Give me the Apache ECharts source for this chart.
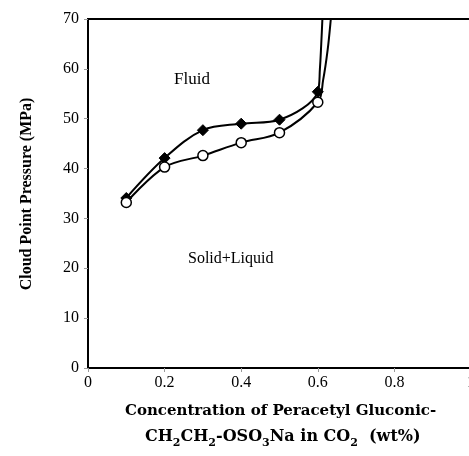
<!DOCTYPE html>
<html>
<head>
<meta charset="utf-8">
<script src="https://cdn.jsdelivr.net/npm/echarts@6/dist/echarts.min.js"></script>
<style>html,body{margin:0;padding:0;background:#fff;}#c{width:469px;height:456px;}</style>
</head>
<body>
<div id="c"></div>
<script>
// Measured points
const concentrations = [0.1, 0.2, 0.3, 0.4, 0.5, 0.6];
const diamondPressure = [34.1, 42.1, 47.7, 49.0, 49.8, 55.4];
const circlePressure = [33.2, 40.3, 42.6, 45.2, 47.2, 53.3];
// Continuation of the curves upward (no markers)
const diamondTailX = [0.6055, 0.609, 0.612, 0.6135];
const diamondTailY = [60.0, 65.0, 70.0, 73.0];
const circleTailX = [0.614, 0.6257, 0.634, 0.637];
const circleTailY = [57.8, 63.8, 70.0, 73.0];
const xTicks = [0, 0.2, 0.4, 0.6, 0.8, 1];
const yTicks = [0, 10, 20, 30, 40, 50, 60, 70];

const serif = '"Liberation Serif", "DejaVu Serif", serif';
const wideSerif = '"DejaVu Serif", serif';

function build(xs, ys, tx, ty) {
  const d = xs.map((x, i) => [x, ys[i]]);
  tx.forEach((x, i) => d.push({ value: [x, ty[i]], symbol: 'none' }));
  return d;
}

const chart = echarts.init(document.getElementById('c'), null, { renderer: 'canvas' });
chart.setOption({
  animation: false,
  backgroundColor: '#fff',
  grid: { left: 88, top: 19, right: -2, bottom: 88, outerBoundsMode: 'none', containLabel: false,
    show: true, borderColor: '#000', borderWidth: 2 },
  xAxis: {
    type: 'value', min: 0, max: 1, interval: 0.2,
    axisLine: { show: true, lineStyle: { color: '#000', width: 2 } },
    axisTick: { show: true, length: 4, lineStyle: { color: '#999', width: 1 } },
    axisLabel: { color: '#000', fontFamily: serif, fontSize: 16, margin: 7,
      formatter: v => String(Math.round(v * 10) / 10) },
    splitLine: { show: false }
  },
  yAxis: {
    type: 'value', min: 0, max: 70, interval: 10,
    axisLine: { show: true, lineStyle: { color: '#000', width: 2 } },
    axisTick: { show: true, length: 4, lineStyle: { color: '#999', width: 1 } },
    axisLabel: { color: '#000', fontFamily: serif, fontSize: 16, margin: 9 },
    splitLine: { show: false }
  },
  series: [
    {
      type: 'line', smooth: 0.35, clip: true,
      data: build(concentrations, diamondPressure, diamondTailX, diamondTailY),
      symbol: 'diamond', symbolSize: 11, showAllSymbol: true,
      lineStyle: { color: '#000', width: 2 },
      itemStyle: { color: '#000', borderColor: '#000', borderWidth: 1 },
      z: 3
    },
    {
      type: 'line', smooth: 0.35, clip: true,
      data: build(concentrations, circlePressure, circleTailX, circleTailY),
      symbol: 'circle', symbolSize: 10, showAllSymbol: true,
      lineStyle: { color: '#000', width: 2 },
      itemStyle: { color: '#fff', borderColor: '#000', borderWidth: 1.5 },
      z: 4
    }
  ],
  graphic: [
    { type: 'text', left: 174, top: 71, style: { text: 'Fluid', font: '17px ' + serif, fill: '#000' } },
    { type: 'text', left: 188, top: 251, style: { text: 'Solid+Liquid', font: '16px ' + serif, fill: '#000' } },
    { type: 'text', x: 27, y: 194, rotation: Math.PI / 2,
      style: { text: 'Cloud Point Pressure (MPa)', font: 'bold 16px ' + serif, fill: '#000', align: 'center', verticalAlign: 'middle' } },
    { type: 'text', left: 125, top: 404, style: { text: 'Concentration of Peracetyl Gluconic-', font: 'bold 15px ' + wideSerif, fill: '#000' } },
    { type: 'text', left: 145, top: 429,
      style: {
        text: '{n|CH}{s|2}{n|CH}{s|2}{n|-OSO}{s|3}{n|Na in CO}{s|2}{n|  (wt%)}',
        rich: {
          n: { font: 'bold 16px ' + wideSerif, fill: '#000', verticalAlign: 'bottom', lineHeight: 18 },
          s: { font: 'bold 11px ' + wideSerif, fill: '#000', verticalAlign: 'bottom', lineHeight: 12, padding: [0, 0, -4, 0] }
        }
      }
    }
  ]
});
</script>
</body>
</html>
